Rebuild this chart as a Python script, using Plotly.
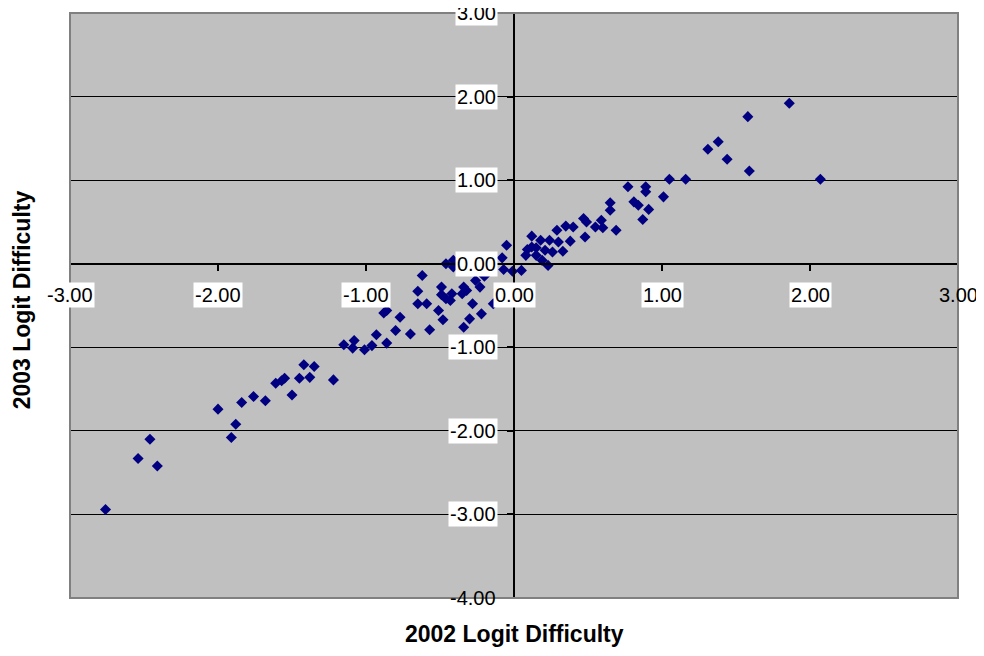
import plotly.graph_objects as go

# 2002 vs 2003 logit difficulty
logit_2002 = [
    -2.76, -2.54, -2.46, -2.41, -2.00, -1.91, -1.88, -1.84, -1.76, -1.68,
    -1.61, -1.57, -1.55, -1.50, -1.45, -1.42, -1.38, -1.35, -1.22, -1.15,
    -1.09, -1.08, -1.01, -0.96, -0.93, -0.86, -0.88, -0.86, -0.80, -0.77,
    -0.70, -0.65, -0.65, -0.62, -0.59, -0.57, -0.51, -0.49, -0.49, -0.48,
    -0.46, -0.46, -0.42, -0.43, -0.41, -0.41, -0.35, -0.34, -0.34, -0.32,
    -0.30, -0.28, -0.26, -0.23, -0.22, -0.20, -0.14, -0.08, -0.07, -0.05,
    -0.01, 0.05, 0.08, 0.09, 0.12, 0.12, 0.15, 0.15, 0.18, 0.19,
    0.21, 0.23, 0.24, 0.26, 0.29, 0.30, 0.33, 0.35, 0.38, 0.40,
    0.47, 0.48, 0.49, 0.55, 0.59, 0.60, 0.65, 0.65, 0.69, 0.77,
    0.81, 0.84, 0.89, 0.89, 0.87, 0.91, 1.01, 1.05, 1.16, 1.31,
    1.38, 1.44, 1.58, 1.59, 1.86, 2.07,
]
logit_2003 = [
    -2.94, -2.33, -2.10, -2.42, -1.74, -2.08, -1.92, -1.66, -1.59, -1.64,
    -1.43, -1.40, -1.37, -1.57, -1.37, -1.21, -1.36, -1.23, -1.39, -0.97,
    -1.01, -0.92, -1.03, -0.98, -0.85, -0.95, -0.59, -0.56, -0.80, -0.64,
    -0.84, -0.33, -0.48, -0.14, -0.48, -0.79, -0.56, -0.28, -0.37, -0.67,
    0.00, -0.42, -0.36, -0.44, 0.04, -0.04, -0.36, -0.28, -0.76, -0.32,
    -0.66, -0.48, -0.20, -0.28, -0.60, -0.15, -0.48, 0.07, -0.07, 0.22,
    -0.09, -0.08, 0.10, 0.17, 0.33, 0.20, 0.19, 0.10, 0.28, 0.04,
    0.16, -0.02, 0.28, 0.14, 0.40, 0.26, 0.15, 0.45, 0.27, 0.44,
    0.54, 0.32, 0.50, 0.44, 0.52, 0.43, 0.73, 0.64, 0.40, 0.92,
    0.74, 0.70, 0.92, 0.86, 0.53, 0.65, 0.80, 1.01, 1.01, 1.37,
    1.46, 1.25, 1.76, 1.11, 1.92, 1.01,
]

x_ticks = [-3, -2, -1, 0, 1, 2, 3]
y_ticks = [-4, -3, -2, -1, 0, 1, 2, 3]

FONT = "Liberation Sans, Arial, sans-serif"

fig = go.Figure(go.Scatter(
    x=logit_2002, y=logit_2003, mode="markers",
    marker=dict(symbol="diamond", size=8.5, color="#000080"),
    showlegend=False,
))

annotations = []
for v in x_ticks:
    annotations.append(dict(
        x=v, y=0, xref="x", yref="y", text=f"{v:.2f}", showarrow=False,
        yshift=-31, borderpad=1, font=dict(family=FONT, size=20, color="black"),
        bgcolor=None if v == 3 else "white",
    ))
for v in y_ticks:
    annotations.append(dict(
        x=0, y=v, xref="x", yref="y", text=f"{v:.2f}", showarrow=False,
        xanchor="right", xshift=-16, borderpad=1,
        font=dict(family=FONT, size=20, color="black"),
        bgcolor=None if v == -4 else "white",
    ))
annotations.append(dict(
    x=0.5, y=-0.062, xref="paper", yref="paper",
    xanchor="center", yanchor="middle",
    text="<b>2002 Logit Difficulty</b>", showarrow=False,
    font=dict(family=FONT, size=23, color="black"),
))
annotations.append(dict(
    x=-0.054, y=0.509, xref="paper", yref="paper", textangle=-90,
    xanchor="center", yanchor="middle",
    text="<b>2003 Logit Difficulty</b>", showarrow=False,
    font=dict(family=FONT, size=23, color="black"),
))

fig.update_layout(
    width=976, height=640,
    margin=dict(l=62, r=26, t=5, b=50),
    paper_bgcolor="white", plot_bgcolor="#C0C0C0",
    xaxis=dict(
        range=[-3, 3], tickvals=x_ticks, showticklabels=False,
        showgrid=False, zeroline=False,
        anchor="free", position=4 / 7,
        showline=True, linecolor="black", linewidth=2,
        ticks="outside", ticklen=6, tickwidth=2, tickcolor="black",
    ),
    yaxis=dict(
        range=[-4, 3], tickvals=y_ticks, showticklabels=False,
        showgrid=True, gridcolor="black", gridwidth=1, zeroline=False,
        anchor="free", position=0.5,
        showline=True, linecolor="black", linewidth=2,
        ticks="outside", ticklen=6, tickwidth=2, tickcolor="black",
    ),
    shapes=[dict(
        type="rect", xref="paper", yref="paper", x0=0, y0=0, x1=1, y1=1,
        line=dict(color="#808080", width=2), layer="above",
    )],
    annotations=annotations,
)

fig.write_html("out.html")
